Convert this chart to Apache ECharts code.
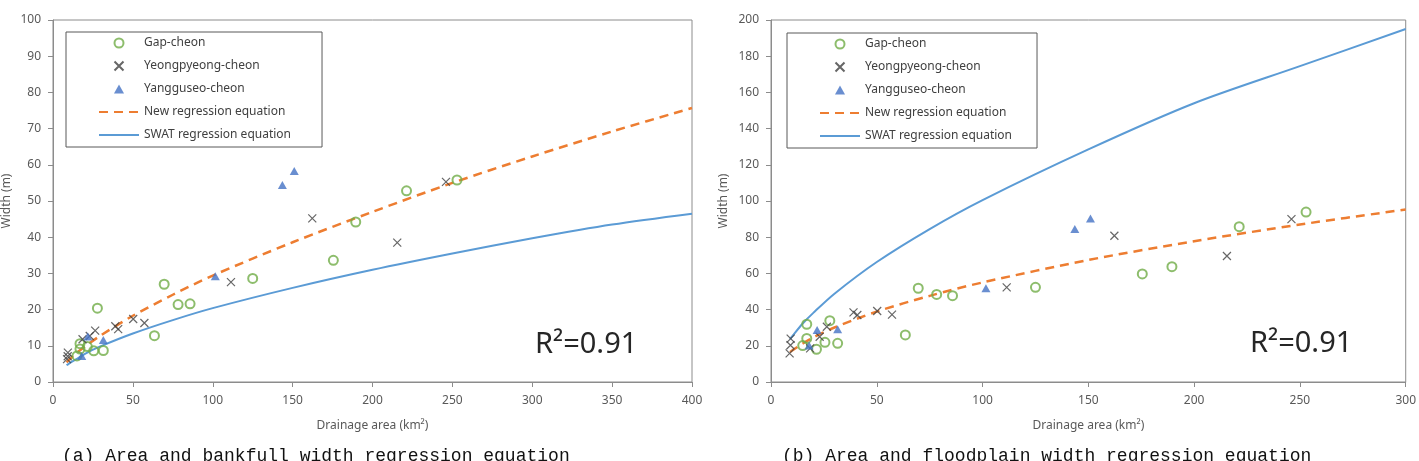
<!DOCTYPE html>
<html>
<head>
<meta charset="utf-8">
<script src="https://cdn.jsdelivr.net/npm/echarts@6/dist/echarts.min.js"></script>
<style>
  html, body { margin: 0; padding: 0; background: #fff; }
  #chart { width: 1419px; height: 461px; }
</style>
</head>
<body>
<div id="chart"></div>
<script>
// station drainage areas (km2), shared by both panels
const gapArea = [15, 16.9, 16.9, 21.5, 25.5, 27.8, 31.5, 63.5, 69.6, 78.3, 85.8, 125, 175.5, 189.5, 221.3, 252.9];
const gapWidthA = [7.2, 10.6, 9.1, 9.8, 8.6, 20.4, 8.7, 12.8, 27, 21.4, 21.6, 28.6, 33.6, 44.2, 52.8, 55.8];
const gapWidthB = [20.1, 31.9, 24.1, 18.1, 21.9, 33.9, 21.4, 26, 51.8, 48.4, 47.7, 52.3, 59.7, 63.7, 85.8, 93.9];

const yeongArea = [9.3, 9.2, 8.8, 18.5, 23, 26.4, 39, 40.8, 50.2, 57.2, 111.4, 162.3, 215.5, 246];
const yeongWidthA = [8.1, 7.1, 6.3, 11.8, 12.7, 14.2, 15.4, 14.6, 17.4, 16.3, 27.6, 45.2, 38.5, 55.3];
const yeongWidthB = [24, 20.3, 15.8, 18.6, 25, 30.5, 38.5, 37, 39.2, 37.2, 52.3, 80.8, 69.6, 90];

const yangArea = [18, 21.8, 31.5, 101.6, 143.6, 151];
const yangWidthA = [7.2, 12.6, 11.6, 29.2, 54.4, 58.3];
const yangWidthB = [20.1, 28.7, 29.1, 51.8, 84.5, 90.4];

// regression curves
const lineAreaA = [8.5, 10, 15, 20, 30, 50, 75, 100, 150, 200, 250, 300, 350, 400];
const newRegA = [5.4, 6.1, 8.1, 9.8, 12.9, 18.3, 24.1, 29.4, 38.6, 47, 55, 62.3, 69.2, 75.7];
const swatRegA = [4.6, 5.1, 6.4, 7.8, 9.9, 13.4, 17.1, 20.4, 26, 31, 35.5, 39.7, 43.5, 46.5];

const lineAreaB = [9, 10, 15, 20, 30, 50, 75, 100, 150, 200, 250, 300];
const newRegB = [16.5, 17.4, 21.3, 24.6, 30.1, 38.9, 47.6, 55, 67.4, 77.8, 87, 95.3];
const swatRegB = [23.7, 25.2, 32.3, 38.2, 48.8, 66.3, 84.5, 100.5, 128.5, 154, 174.5, 195];

const scatterNames = ['Gap-cheon', 'Yeongpyeong-cheon', 'Yangguseo-cheon'];
const lineNames = ['New regression equation', 'SWAT regression equation'];
const r2Text = 'R²=0.91';
const captions = ['(a) Area and bankfull width regression equation', '(b) Area and floodplain width regression equation'];

const zip = (xs, ys) => xs.map((x, i) => [x, ys[i]]);

const axisColor = '#8c8c8c';
const labelColor = '#595959';
const font = 'Noto Sans';
const crossPath = 'path://M0,0L10,10M10,0L0,10';
const trianglePath = 'path://M5,0L10,9L0,9Z';

function xAxisFor(idx, max) {
  return {
    gridIndex: idx,
    type: 'value',
    min: 0,
    max: max,
    interval: 50,
    name: 'Drainage area (km²)',
    nameLocation: 'middle',
    nameGap: 38,
    nameTextStyle: { color: labelColor, fontSize: 12, fontFamily: font },
    axisLine: { show: true, lineStyle: { color: axisColor, width: 1 } },
    axisTick: { show: true, inside: false, length: 5, lineStyle: { color: axisColor } },
    axisLabel: { color: labelColor, fontSize: 12, fontFamily: font, margin: 13 },
    splitLine: { show: false }
  };
}

function yAxisFor(idx, max, interval, gap) {
  return {
    gridIndex: idx,
    type: 'value',
    min: 0,
    max: max,
    interval: interval,
    name: 'Width (m)',
    nameLocation: 'middle',
    nameGap: gap,
    nameRotate: 90,
    nameTextStyle: { color: labelColor, fontSize: 12, fontFamily: font },
    axisLine: { show: true, lineStyle: { color: axisColor, width: 1 } },
    axisTick: { show: true, inside: false, length: 5, lineStyle: { color: axisColor } },
    axisLabel: { color: labelColor, fontSize: 12, fontFamily: font, margin: 12 },
    splitLine: { show: false }
  };
}

function seriesFor(idx, gapW, yeongW, yangW, lineArea, newReg, swatReg) {
  return [
    {
      name: 'New regression equation',
      type: 'line',
      xAxisIndex: idx,
      yAxisIndex: idx,
      data: zip(lineArea, newReg),
      symbol: 'none',
      smooth: 0.3,
      lineStyle: { color: '#ED7D31', width: 2.5, type: [9, 6] },
      itemStyle: { color: '#ED7D31' },
      z: 2
    },
    {
      name: 'SWAT regression equation',
      type: 'line',
      xAxisIndex: idx,
      yAxisIndex: idx,
      data: zip(lineArea, swatReg),
      symbol: 'none',
      smooth: 0.3,
      lineStyle: { color: '#5B9BD5', width: 2 },
      itemStyle: { color: '#5B9BD5' },
      z: 2
    },
    {
      name: 'Gap-cheon',
      type: 'scatter',
      xAxisIndex: idx,
      yAxisIndex: idx,
      data: zip(gapArea, gapW),
      symbol: 'circle',
      symbolSize: 9,
      itemStyle: { color: 'rgba(255,255,255,0)', borderColor: '#70AD47', borderWidth: 2 },
      z: 3
    },
    {
      name: 'Yeongpyeong-cheon',
      type: 'scatter',
      xAxisIndex: idx,
      yAxisIndex: idx,
      data: zip(yeongArea, yeongW),
      symbol: crossPath,
      symbolSize: 8,
      itemStyle: { color: 'rgba(0,0,0,0)', borderColor: '#404040', borderWidth: 1.2 },
      z: 3
    },
    {
      name: 'Yangguseo-cheon',
      type: 'scatter',
      xAxisIndex: idx,
      yAxisIndex: idx,
      data: zip(yangArea, yangW),
      symbol: trianglePath,
      symbolSize: [9, 8],
      itemStyle: { color: '#4472C4' },
      z: 3
    }
  ];
}

function legendFor(left, top, padRight) {
  return {
    left: left,
    top: top,
    orient: 'vertical',
    data: [
      ...scatterNames.map(n => ({ name: n })),
      // lines only, no marker dot in the key
      ...lineNames.map(n => ({ name: n, itemStyle: { opacity: 0 } }))
    ],
    itemWidth: 40,
    itemHeight: 9,
    itemGap: 11,
    padding: [5, padRight, 6, 32],
    borderColor: '#595959',
    borderWidth: 1,
    selectedMode: false,
    symbolKeepAspect: true,
    textStyle: { color: '#404040', fontSize: 12, fontFamily: font }
  };
}

const chart = echarts.init(document.getElementById('chart'), null, { renderer: 'canvas' });

chart.setOption({
  backgroundColor: '#fff',
  animation: false,
  grid: [
    { left: 53, top: 20, width: 639, height: 362, show: true, borderColor: axisColor, borderWidth: 1 },
    { left: 771, top: 20, width: 637, height: 362, show: true, borderColor: axisColor, borderWidth: 1 }
  ],
  xAxis: [xAxisFor(0, 400), xAxisFor(1, 300)],
  yAxis: [yAxisFor(0, 100, 10, 40), yAxisFor(1, 200, 20, 41)],
  legend: [legendFor(66, 32, 31), legendFor(787, 33, 25)],
  series: [
    ...seriesFor(0, gapWidthA, yeongWidthA, yangWidthA, lineAreaA, newRegA, swatRegA),
    ...seriesFor(1, gapWidthB, yeongWidthB, yangWidthB, lineAreaB, newRegB, swatRegB)
  ],
  graphic: [
    { type: 'text', left: 535, top: 330, style: { text: r2Text, fontSize: 29, fontFamily: font, fill: '#262626' } },
    { type: 'text', left: 1250, top: 329, style: { text: r2Text, fontSize: 29, fontFamily: font, fill: '#262626' } },
    { type: 'text', left: 62, top: 447, style: { text: captions[0], fontSize: 18, fontFamily: 'Liberation Mono', fill: '#111' } },
    { type: 'text', left: 782, top: 447, style: { text: captions[1], fontSize: 18, fontFamily: 'Liberation Mono', fill: '#111' } }
  ]
});
</script>
</body>
</html>
